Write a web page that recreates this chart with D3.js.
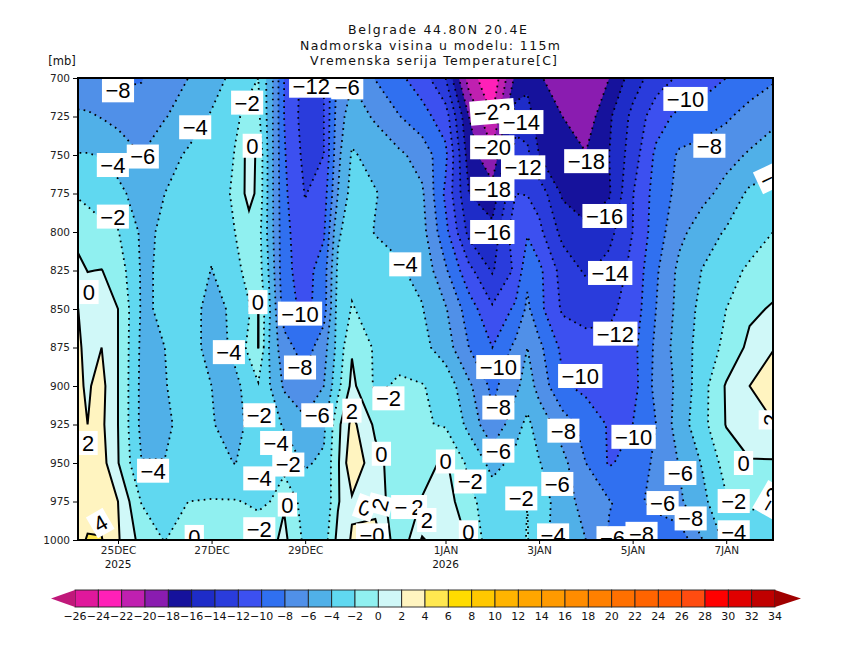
<!DOCTYPE html>
<html><head><meta charset="utf-8">
<script src="https://cdn.jsdelivr.net/npm/d3@7"></script>
<style>html,body{margin:0;padding:0;background:#fff}svg{display:block}
text{font-family:"DejaVu Sans",sans-serif;fill:#111}</style></head>
<body><svg id="c" width="850" height="656"></svg>
<script>
const titleLines = ["Belgrade  44.80N 20.4E","Nadmorska visina u modelu: 115m","Vremenska serija Temperature[C]"];
const days = [-1,-0.65,-0.35,0,0.5,1,1.5,2,2.5,2.8,3,3.25,3.55,4,4.4,4.7,5,5.5,6,6.5,7,7.5,8,8.5,8.75,9,9.5,10,10.5,11,11.5,12,12.5,13,13.5,14];
const levels = [700,725,750,775,800,825,850,875,900,925,950,975,1000];
const t700 = [-7.5,-7.7,-8.0,-8.5,-8.1,-7,-6,-4.9,-3.4,-2.4,-2.0,-5,-10,-12.8,-12,-7.5,-6.2,-8.1,-9.6,-11,-14,-21,-23.7,-17.5,-16.6,-17.7,-19.5,-19.5,-18,-15,-13,-11.7,-10.8,-10,-9.2,-8.3];
const t725 = [-5.6,-5.7,-6.1,-6.6,-7.3,-6.1,-5.2,-3.8,-2.3,-1.5,-1.6,-5,-10,-13,-12,-7,-4.9,-6.3,-7.9,-9.3,-11,-18,-22,-15,-15.2,-17,-18,-19.2,-16.3,-13.5,-10.9,-9.5,-9.2,-8.3,-7.2,-6.4];
const t750 = [-3.9,-3.9,-4.1,-4.8,-6,-4.9,-3.7,-4.0,-1.9,0.8,-0.4,-5,-9.8,-12.6,-12,-6.5,-3.8,-4.6,-5.6,-6.8,-9.5,-17,-19.6,-13,-13.5,-16,-17.7,-17.9,-16,-13,-9.6,-7.7,-7.1,-6.6,-5.8,-5.2];
const t775 = [-2,-2.3,-2.6,-3.5,-4.9,-4,-3.4,-3.8,-1.5,0.7,-0.5,-5,-9.6,-12.1,-11,-6,-3.2,-3.9,-4.8,-5.7,-10.4,-16,-17.2,-12,-12.1,-12.8,-16.3,-17,-16.2,-12.1,-9.2,-7.4,-6.5,-5.4,-3.6,-3];
const t800 = [-0.3,-1.4,-1.7,-1.9,-4.3,-3.8,-3.1,-3.7,-2,-0.9,-1.2,-5,-9.4,-11.4,-10.3,-4.3,-3,-4.1,-4.4,-5.3,-9.4,-14.6,-15.4,-10.6,-10.2,-11.5,-14.6,-15.6,-14.6,-12,-9,-6.5,-5,-3.8,-2.9,-2];
const t825 = [1.2,-0.05,0.05,-0.9,-4.2,-3.8,-3,-4.05,-2.7,-1.2,-1,-4.5,-9.5,-10.8,-9,-3.6,-2.4,-3,-3.8,-4.5,-7.7,-11.4,-14.2,-11.6,-8.5,-9.5,-12.8,-14.3,-13.3,-11.5,-8.3,-5.5,-3.9,-2.7,-1.7,-0.9];
const t850 = [2.6,1.2,1.0,0,-4.2,-3.8,-3,-4.8,-3.5,-2.2,0.05,-4,-9,-10.6,-8.9,-3.2,-1.9,-2.6,-3.1,-3.9,-5.8,-9,-11.7,-9.6,-7.6,-9.4,-12.3,-12.5,-12.4,-11.2,-8,-5.3,-3.4,-2,-0.4,0.2];
const t875 = [3,1.4,2,0,-4.4,-4,-2.9,-4.9,-3.6,-1.5,0.05,-4.4,-7.2,-9,-6.8,-3.3,-0.2,-2.3,-2.5,-3.4,-5,-8,-10,-7.5,-6,-7.5,-10.5,-11.5,-11.5,-10.6,-7.6,-5,-3.2,-1.5,0.5,1.9];
const t900 = [2.6,1.8,2.6,0,-4.5,-4.1,-3.1,-4,-4.4,-3.4,-2.2,-4,-6.3,-7.4,-6,-2.6,0.5,-2.3,-1.8,-1.9,-2.7,-5.6,-8.5,-6.5,-5,-6.7,-9.7,-10.5,-10,-10.8,-7.4,-5.5,-2.7,0.2,2,3];
const t925 = [3,2,2.4,0,-4.5,-4.4,-3.2,-3.9,-4.6,-3.7,-2.4,-3.2,-4.2,-5.6,-4.4,-0.6,2.6,-0.4,-1.7,-1.8,-2.2,-4.5,-7.7,-4.6,-3.6,-4.8,-7,-8.8,-10.2,-10,-8,-5,-2.6,0.1,1.5,1.9];
const t950 = [3,3,2.8,0.1,-3.95,-3.95,-3.2,-3.4,-4.05,-3.4,-3,-2.6,-2.9,-4.2,-3.7,-0.3,3.6,0.6,-1,-0.6,0.3,-2.5,-4.6,-3.5,-3.1,-3.9,-5.4,-8,-10.2,-9.3,-7.6,-5.9,-3.8,-1.2,-0.2,-0.2];
const t975 = [3.4,3.5,3.2,2,-2.1,-3,-2,-1.9,-1.9,-2.1,-2.3,-2,-0.2,-3,-3.8,-0.2,1.7,1,-1.2,0.1,1,-1.5,-3,-2.2,-2,-3.2,-4.8,-7,-7.9,-8.6,-7.4,-6.3,-4.5,-2.2,-1.8,-2];
const t1000 = [3.3,4.1,4.1,2.2,-0.7,-2.1,-0.2,-1,-1.1,-1.2,-1.1,-0.6,0.5,-2.5,-3,0.6,2.2,3.2,-1.7,2.2,0.8,-0.1,-3.5,-2.7,-1.9,-3.3,-4.9,-6,-8.2,-9,-9.4,-9.3,-6,-3.5,-2.6,-3];
const rows = [t700,t725,t750,t775,t800,t825,t850,t875,t900,t925,t950,t975,t1000];

const bandEdges = d3.range(-26,36,2);
const bandColors = ["#c0187a","#e0189c","#ff20b8","#c020b0","#8a1cb0","#16129c","#1e2cc8","#2a3cdc","#3c50f0","#3070f0","#5090e8","#50b0e8","#60d8f0","#90f0f0","#d0f8f8","#fff4c0","#ffe850","#ffdc00","#ffc800","#ffb400","#ffa600","#ff9a00","#ff8c00","#ff8000","#ff7000","#ff6400","#ff5a00","#ff4c10","#ff0000","#e00000","#c00000","#a00000"];
const tickDays = [0,2,4,7,9,11,13];
const tickNames = ["25DEC","27DEC","29DEC","1JAN","3JAN","5JAN","7JAN"];
const yearDays = [0,7];
const yearNames = ["2025","2026"];

const labelTexts = ["−8","−2","−12","−6","−4","0","−4","−6","−2","0","−4","−10","0","−4","−8","−2","−2","−6","2","−4","2","−2","−4","−4","0","0","−2","0","0","2","−2","2","2","0","−2","0","−2","−22","−14","−20","−12","−18","−16","−18","−16","−14","−12","−10","−10","−8","−8","−10","−6","−6","−6","−6","−8","−2","−4","−4","−6","−8","−10","−8","−4","−2","2","0","4","−0"];
const labelDays = [0,2.76,4.13,4.9,1.65,2.87,-0.11,0.53,-0.11,-0.62,6.14,3.89,2.99,2.37,3.89,5.78,3.02,4.26,5,3.38,-0.64,3.64,0.75,3.02,5.63,3.62,3.02,1.63,5.28,5.6,6.18,6.4,6.6,7,7.53,7.49,8.62,8,8.62,8,8.66,8,8,10.01,10.4,10.52,10.63,8.13,9.88,8.13,9.52,11.02,8.13,9.39,12.02,11.64,12.24,13.16,13.16,9.3,10.57,11.19,12.13,12.64,13.99,13.95,13.95,13.37,-0.38,5.43];
const labelLevels = [708,716,705,706,732,744,756.5,751,790,839,821,853,845.5,878,888,908,919,919,916,937,937,951,955,960,944,977,993,998,979,977,978.6,978.6,987,949,962,995,973,722,728.6,745,758,772,800,754,789.6,826.6,866,887.7,893.5,914,929,933,942,963.6,956.5,976,986,974.7,995,997,998.8,996,713.6,744,764,974,922,950,989,997];
const labelAngles = {28:20,29:-75,37:-5,64:-25,65:-60,66:-90,68:-30};

const svg = d3.select("#c");
const x = d3.scaleLinear().domain([-0.855,14]).range([78,773]);
const y = d3.scaleLinear().domain([700,1000]).range([78,540]);
const ix = d3.scaleLinear().domain(days.map((_,i)=>i)).range(days.map(x)).clamp(true);
const iy = d3.scaleLinear().domain(levels.map((_,i)=>i)).range(levels.map(y)).clamp(true);
const band = d3.scaleThreshold().domain(bandEdges).range(bandColors);

svg.append("defs").append("clipPath").attr("id","plot").append("rect")
  .attr("x",78).attr("y",78).attr("width",695).attr("height",462);

const flat = rows.flat();
const contours = d3.contours().size([days.length,levels.length]).thresholds(bandEdges)(flat);
const path = d3.geoPath(d3.geoTransform({point(a,b){this.stream.point(ix(a-0.5),iy(b-0.5));}}));

const plot = svg.append("g").attr("clip-path","url(#plot)");
plot.append("rect").attr("x",78).attr("y",78).attr("width",695).attr("height",462).attr("fill",bandColors[0]);
plot.selectAll("path.f").data(contours).join("path").attr("class","f")
  .attr("d",path).attr("fill",d=>band(d.value));
plot.selectAll("path.l").data(contours.filter(d=>d.coordinates.length)).join("path").attr("class","l")
  .attr("d",path).attr("fill","none").attr("stroke","#000")
  .attr("stroke-width",d=>d.value<0?1.8:2)
  .attr("stroke-dasharray",d=>d.value<0?"1.7,4.3":null);

const labs = plot.selectAll("g.lab").data(labelTexts).join("g").attr("class","lab")
  .attr("transform",(d,i)=>`translate(${x(labelDays[i])},${y(labelLevels[i])}) rotate(${labelAngles[i]||0})`);
labs.append("rect").attr("fill","#fff");
labs.append("text").text(d=>d).attr("text-anchor","middle").attr("dy","0.36em")
  .style("font-family","'Liberation Sans',sans-serif").style("font-size","22px").style("fill","#000");
labs.each(function(){
  const g=d3.select(this), w=g.select("text").node().getComputedTextLength()+7;
  g.select("rect").attr("x",-w/2).attr("y",-12).attr("width",w).attr("height",24);
});

svg.append("rect").attr("x",78).attr("y",78).attr("width",695).attr("height",462)
  .attr("fill","none").attr("stroke","#000").attr("stroke-width",2);

const ax = svg.append("g").attr("transform","translate(78,0)")
  .call(d3.axisLeft(y).tickValues(levels).tickFormat(d3.format("d")).tickSize(5).tickPadding(3));
const bx = svg.append("g").attr("transform","translate(0,540)")
  .call(d3.axisBottom(x).tickValues(tickDays).tickFormat((d,i)=>tickNames[i]).tickSize(4).tickPadding(3));
[ax,bx].forEach(g=>{g.select(".domain").remove();
  g.selectAll("text").style("font-size","10.5px").style("fill","#222");
  g.selectAll("line").attr("stroke","#000");});
svg.selectAll("text.yr").data(yearNames).join("text").attr("class","yr")
  .attr("x",(d,i)=>x(yearDays[i])).attr("y",568).attr("text-anchor","middle")
  .style("font-size","10.5px").text(d=>d);
svg.append("text").attr("x",62).attr("y",65).attr("text-anchor","middle").style("font-size","11.5px").text("[mb]");

svg.selectAll("text.t").data(titleLines).join("text").attr("class","t")
  .attr("x",(d,i)=>[437.5,430,433.5][i]).attr("y",(d,i)=>[34,50,65][i]).attr("text-anchor","middle")
  .attr("textLength",(d,i)=>[179,260,247][i]).attr("lengthAdjust","spacing")
  .style("font-size","12.5px").text(d=>d);

const lx = d3.scaleLinear().domain([-26,34]).range([75,775]);
const ly0=590, ly1=607;
const boxes = d3.pairs(bandEdges);
svg.selectAll("rect.k").data(boxes).join("rect").attr("class","k")
  .attr("x",d=>lx(d[0])).attr("y",ly0).attr("width",d=>lx(d[1])-lx(d[0])).attr("height",ly1-ly0)
  .attr("fill",d=>band(d[0])).attr("stroke","#222").attr("stroke-width",0.9);
const tri = d3.line();
svg.append("path").attr("d",tri([[lx(-26),ly0],[51,(ly0+ly1)/2],[lx(-26),ly1]])+"Z").attr("fill",bandColors[0]);
svg.append("path").attr("d",tri([[lx(34),ly0],[801,(ly0+ly1)/2],[lx(34),ly1]])+"Z").attr("fill",bandColors[31]);
svg.selectAll("text.kl").data(bandEdges).join("text").attr("class","kl")
  .attr("x",d=>lx(d)).attr("y",620).attr("text-anchor","middle").style("font-size","11px")
  .text(d=>d<0?"−"+(-d):d);
</script></body></html>
